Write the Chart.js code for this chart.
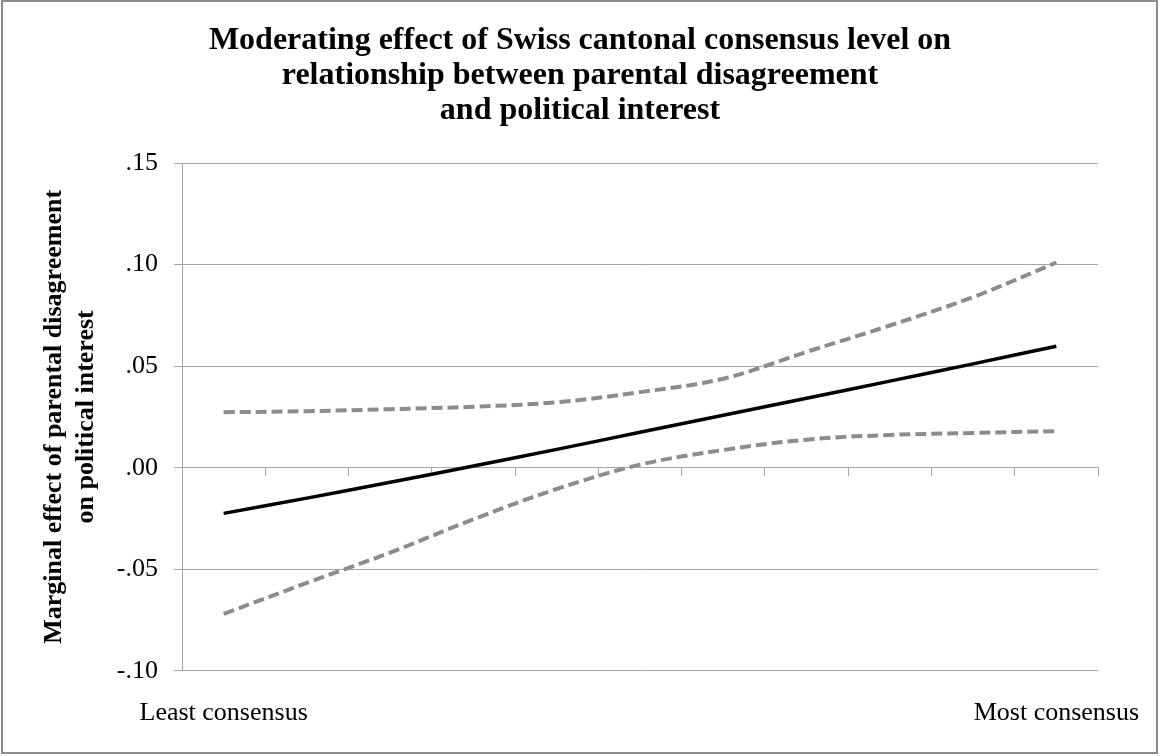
<!DOCTYPE html>
<html>
<head>
<meta charset="utf-8">
<script src="https://cdn.jsdelivr.net/npm/chart.js@4"></script>
<style>
    body { margin: 0; background: #fff; }
    #wrap { width: 1160px; height: 756px; position: relative; }
</style>
</head>
<body>
<div id="wrap"><canvas id="chart"></canvas></div>
<script>
const serif = "'Liberation Serif', 'Times New Roman', serif";
const gridGrey = "#a6a6a6";

// 11 points along consensus level, only the ends are labelled
const categories = ["Least consensus", "", "", "", "", "", "", "", "", "", "Most consensus"];
const effect = [-0.0225, -0.0150, -0.0072, 0.0008, 0.0090, 0.0174, 0.0258, 0.0342, 0.0426, 0.0511, 0.0598];
const upperCI = [0.0273, 0.0278, 0.0288, 0.0300, 0.0322, 0.0372, 0.0438, 0.0570, 0.0700, 0.0840, 0.1010];
const lowerCI = [-0.0720, -0.0567, -0.0418, -0.0254, -0.0105, 0.0015, 0.0087, 0.0138, 0.0161, 0.0171, 0.0180];
const yTicks = [-0.10, -0.05, 0.00, 0.05, 0.10, 0.15];

const frame = {
    id: "frame",
    afterDraw: (chart) => {
        const ctx = chart.ctx;
        ctx.save();
        ctx.strokeStyle = "#8c8c8c";
        ctx.lineWidth = 2;
        ctx.strokeRect(2, 1, 1155, 752);
        ctx.restore();
    }
};

const fmt = (v) => (v < -1e-9 ? "-" : "") + Math.abs(v).toFixed(2).replace(/^0/, "");

new Chart(document.getElementById("chart"), {
    type: "line",
    plugins: [frame],
    data: {
        labels: categories,
        datasets: [
            {
                label: "Upper bound",
                data: upperCI,
                borderColor: "#8c8c8c",
                borderWidth: 4,
                borderDash: [11, 5],
                pointRadius: 0,
                tension: 0.35,
                fill: false
            },
            {
                label: "Marginal effect",
                data: effect,
                borderColor: "#000",
                borderWidth: 3.5,
                pointRadius: 0,
                tension: 0.35,
                fill: false
            },
            {
                label: "Lower bound",
                data: lowerCI,
                borderColor: "#8c8c8c",
                borderWidth: 4,
                borderDash: [11, 5],
                pointRadius: 0,
                tension: 0.35,
                fill: false
            }
        ]
    },
    options: {
        responsive: true,
        maintainAspectRatio: false,
        animation: false,
        layout: { padding: { left: 0, right: 0, top: 0, bottom: 0 } },
        plugins: {
            legend: { display: false },
            tooltip: { enabled: false },
            title: {
                display: true,
                text: ["Moderating effect of Swiss cantonal consensus level on",
                       "relationship between parental disagreement",
                       "and political interest"],
                color: "#000",
                font: { family: serif, size: 32, weight: "bold", lineHeight: "35px" },
                padding: { top: 23, bottom: 35 }
            }
        },
        scales: {
            x: {
                type: "category",
                position: "bottom",
                offset: true,
                afterFit: (scale) => { scale.paddingLeft = 0; scale.paddingRight = 62; },
                grid: { display: false, drawTicks: false },
                border: { display: false },
                ticks: {
                    autoSkip: false,
                    maxRotation: 0,
                    color: "#000",
                    padding: 27,
                    font: { family: serif, size: 26 }
                }
            },
            x0: {
                type: "category",
                position: { y: 0 },
                offset: true,
                afterFit: (scale) => { scale.height = 0; scale.paddingLeft = 0; scale.paddingRight = 0; },
                grid: {
                    offset: true,
                    drawOnChartArea: false,
                    drawTicks: true,
                    tickLength: 8,
                    color: gridGrey
                },
                border: { display: true, color: gridGrey },
                ticks: { display: false }
            },
            y: {
                min: yTicks[0],
                max: yTicks[yTicks.length - 1],
                afterFit: (scale) => { scale.width = 182; },
                afterBuildTicks: (scale) => { scale.ticks = yTicks.map(v => ({ value: v })); },
                grid: { color: gridGrey, tickLength: 8 },
                border: { color: gridGrey },
                ticks: {
                    color: "#000",
                    padding: 16,
                    font: { family: serif, size: 26 },
                    callback: (v) => fmt(v)
                },
                title: {
                    display: true,
                    text: ["Marginal effect of parental disagreement", "on political interest"],
                    color: "#000",
                    font: { family: serif, size: 26, weight: "bold", lineHeight: "32px" },
                    padding: { top: 38, bottom: 0 }
                }
            }
        }
    }
});
</script>
</body>
</html>
